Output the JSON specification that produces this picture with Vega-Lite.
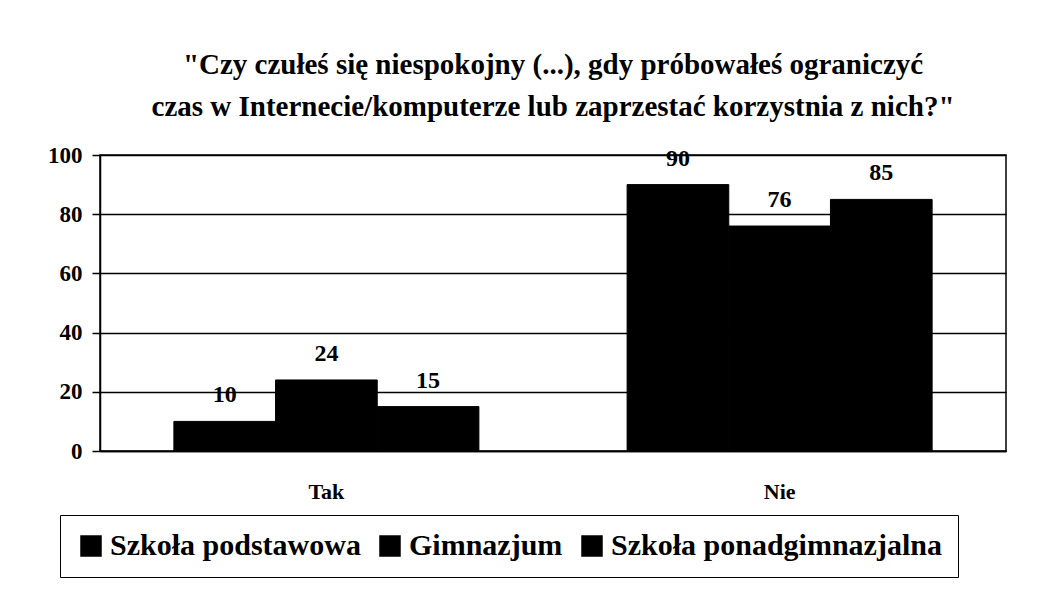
{
  "$schema": "https://vega.github.io/schema/vega-lite/v6.json",
  "width": 906,
  "height": 296,
  "autosize": {"type": "none"},
  "padding": {"left": 100, "top": 155, "right": 43, "bottom": 147},
  "background": "white",
  "title": {
    "text": ["\"Czy czułeś się niespokojny (...), gdy próbowałeś ograniczyć", "czas w Internecie/komputerze lub zaprzestać korzystnia z nich?\""],
    "font": "Liberation Serif",
    "fontSize": 29,
    "fontWeight": "bold",
    "color": "black",
    "lineHeight": 42,
    "anchor": "middle",
    "offset": 22
  },
  "data": {
    "values": [
      {"odp": "Tak", "szkola": "Szkoła podstawowa", "v": 10},
      {"odp": "Tak", "szkola": "Gimnazjum", "v": 24},
      {"odp": "Tak", "szkola": "Szkoła ponadgimnazjalna", "v": 15},
      {"odp": "Nie", "szkola": "Szkoła podstawowa", "v": 90},
      {"odp": "Nie", "szkola": "Gimnazjum", "v": 76},
      {"odp": "Nie", "szkola": "Szkoła ponadgimnazjalna", "v": 85}
    ]
  },
  "encoding": {
    "x": {
      "field": "odp", "type": "nominal", "sort": ["Tak", "Nie"],
      "scale": {"paddingInner": 0.327, "paddingOuter": 0.163},
      "axis": {
        "title": null, "labelAngle": 0, "labelFont": "Liberation Serif", "labelFontSize": 22,
        "labelFontWeight": "bold", "labelColor": "black", "labelPadding": 30, "ticks": false,
        "domainColor": "black", "domainWidth": 1.5
      }
    },
    "xOffset": {"field": "szkola", "type": "nominal", "sort": ["Szkoła podstawowa", "Gimnazjum", "Szkoła ponadgimnazjalna"], "scale": {"paddingInner": 0, "paddingOuter": 0}},
    "y": {
      "field": "v", "type": "quantitative",
      "scale": {"domain": [0, 100]},
      "axis": {
        "title": null, "values": [0, 20, 40, 60, 80, 100], "labelFont": "Liberation Serif", "labelFontSize": 23,
        "labelFontWeight": "bold", "labelColor": "black", "labelPadding": 10, "tickSize": 8,
        "tickColor": "black", "tickWidth": 1.5, "domainColor": "black", "domainWidth": 1.5,
        "grid": true, "gridColor": "black", "gridWidth": 1.5
      }
    }
  },
  "layer": [
    {
      "mark": {"type": "bar", "stroke": "black"},
      "encoding": {
        "color": {
          "field": "szkola", "type": "nominal", "sort": ["Szkoła podstawowa", "Gimnazjum", "Szkoła ponadgimnazjalna"],
          "scale": {"range": ["black", "black", "black"]},
          "legend": {
            "title": null, "orient": "none", "legendX": -40, "legendY": 360, "direction": "horizontal",
            "labelFont": "Liberation Serif", "labelFontSize": 30, "labelFontWeight": "bold", "labelColor": "black",
            "labelLimit": 0,
            "symbolType": "square", "symbolSize": 400, "symbolStrokeColor": "black", "symbolOpacity": 1,
            "strokeColor": "black", "padding": 16, "columnPadding": 14, "labelOffset": 4
          }
        }
      }
    },
    {
      "mark": {"type": "text", "baseline": "bottom", "dy": -14, "font": "Liberation Serif", "fontSize": 24, "fontWeight": "bold", "color": "black"},
      "encoding": {"text": {"field": "v", "type": "quantitative"}}
    }
  ],
  "config": {
    "view": {"stroke": "black", "strokeWidth": 1.5}
  }
}
